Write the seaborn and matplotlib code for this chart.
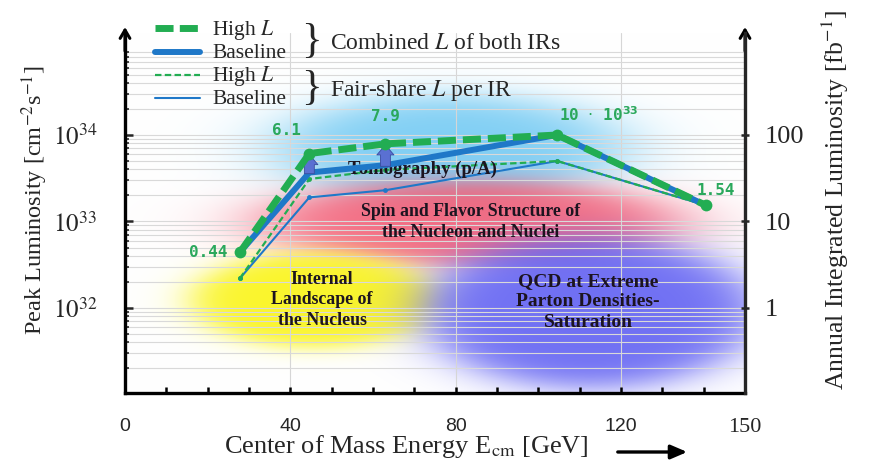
import numpy as np
import pandas as pd
import matplotlib
matplotlib.use("Agg")
import matplotlib.pyplot as plt
import seaborn as sns
from matplotlib.lines import Line2D
from matplotlib.ticker import FixedLocator, MultipleLocator, LogLocator, NullFormatter, NullLocator

# ---------------- data ----------------
energy_gev = [27.8, 44.6, 63.0, 104.6, 140.5]
high_combined = [0.44e33, 6.1e33, 7.9e33, 10.0e33, 1.54e33]
base_combined = [0.44e33, 3.68e33, 4.48e33, 10.0e33, 1.54e33]
high_per_ir = [0.22e33, 3.1e33, 3.95e33, 5.0e33, 1.54e33]
base_per_ir = [0.22e33, 1.9e33, 2.3e33, 5.0e33, 1.54e33]
point_labels = ["0.44", "6.1", "7.9", r"10 $\cdot$ 10$^{\mathbf{33}}$", "1.54"]
arrow_points = [1, 2]
x_ticks = [0, 40, 80, 120, 150]
x_tick_labels = ["0", "40", "80", "120", "150"]
left_ticks = [1e32, 1e33, 1e34]
left_tick_labels = [r"$10^{32}$", r"$10^{33}$", r"$10^{34}$"]
right_ticks = [1, 10, 100]
right_tick_labels = ["1", "10", "100"]
legend_labels = ["High $L$", "Baseline", "High $L$", "Baseline"]
group_labels = ["Combined $L$ of both IRs", "Fair-share $L$ per IR"]
region_labels = ["Tomography (p/A)",
                 "Spin and Flavor Structure of\nthe Nucleon and Nuclei",
                 "Internal\nLandscape of\nthe Nucleus",
                 "QCD at Extreme\nParton Densities-\nSaturation"]

# ---------------- style ----------------
sns.set_style("white")
plt.rcParams["font.family"] = ["Liberation Serif", "DejaVu Serif"]
plt.rcParams["mathtext.fontset"] = "stix"

GREEN = "#22ad52"
BLUE = "#1f78c8"
LABEL_GREEN = "#2aa85c"
W, H = 869, 466
AX_L, AX_R, AX_T, AX_B = 125, 745, 33, 393
AW, AH = AX_R - AX_L, AX_B - AX_T
fx = lambda px: px / W
fy = lambda py: 1 - py / H

fig = plt.figure(figsize=(W / 100, H / 100), dpi=100)
rect = [fx(AX_L), fy(AX_B), AW / W, AH / H]

# ---------------- soft coloured regions (background) ----------------
bg = fig.add_axes(rect, zorder=-1)
yy, xx = np.mgrid[0:AH, 0:AW] + 0.5
img = np.ones((AH, AW, 3))
blobs = [  # page-pixel centre, semi-axes, colour, max alpha, softness
    (450, 148, 170, 52, (0.42, 0.78, 0.95), 0.85, 0.16),
    (470, 223, 205, 42, (0.95, 0.33, 0.43), 0.85, 0.14),
    (315, 300, 122, 47, (0.98, 0.96, 0.15), 0.97, 0.11),
    (590, 312, 165, 75, (0.38, 0.38, 0.95), 0.9, 0.11),
]
for cx, cy, a, b, col, amax, soft in blobs:
    r = np.hypot((xx - (cx - AX_L)) / a, (yy - (cy - AX_T)) / b)
    al = amax / (1 + np.exp((r - 1) / soft))
    img = img * (1 - al[..., None]) + np.array(col) * al[..., None]
bg.imshow(img, extent=(0, AW, AH, 0), aspect="auto", interpolation="bilinear")
bg.set_xlim(0, AW)
bg.set_ylim(AH, 0)
bg.axis("off")

# ---------------- main axes ----------------
ax = fig.add_axes(rect, zorder=1)
ax.patch.set_alpha(0)
ax.set_yscale("log")
ylo = 10 ** (32 - (AX_B - 308) / 86.5)
yhi = 10 ** (34 + (135 - AX_T) / 86.5)

sns.lineplot(x=energy_gev, y=base_per_ir, ax=ax, color=BLUE, lw=1.5,
             marker="o", markersize=3.5, markeredgewidth=0, zorder=3)
sns.lineplot(x=energy_gev, y=high_per_ir, ax=ax, color=GREEN, lw=1.6,
             linestyle=(0, (2.9, 1.5)), marker="o", markersize=3.5,
             markeredgewidth=0, zorder=3.2)
sns.lineplot(x=energy_gev, y=base_combined, ax=ax, color=BLUE, lw=4.3,
             solid_joinstyle="round", zorder=3.5)
for i in arrow_points:
    ax.annotate("", xy=(energy_gev[i], high_combined[i] * 0.97),
                xytext=(energy_gev[i], base_combined[i] * 0.97),
                arrowprops=dict(arrowstyle="simple,head_length=0.55,head_width=0.95,tail_width=0.55",
                                fc="#5a70d2", ec="#3b4c9e", lw=0.6, shrinkA=0, shrinkB=0,
                                mutation_scale=13),
                zorder=4)
sns.lineplot(x=energy_gev, y=high_combined, ax=ax, color=GREEN, lw=5,
             linestyle=(0, (2.6, 1.0)), marker="o", markersize=8.5,
             markeredgewidth=0, zorder=5)

label_offsets = [(-9, 0), (-16.5, 16.5), (0, 19.5), (29.5, 15), (7, 11)]
label_ha = ["right", "center", "center", "center", "center"]
for i, txt in enumerate(point_labels):
    ax.annotate(txt, xy=(energy_gev[i], high_combined[i]), xytext=label_offsets[i],
                textcoords="offset points", ha=label_ha[i], va="center",
                color=LABEL_GREEN, fontsize=11.5, fontweight="bold",
                family="DejaVu Sans Mono", math_fontfamily="dejavusans", zorder=6)

ax.set_xlim(0, 150)
ax.set_ylim(ylo, yhi)

# grid
ax.grid(True, which="both", axis="y", color="#d9d9d9", lw=0.8, zorder=0)
ax.grid(True, which="major", axis="x", color="#d6d6d6", lw=0.8, zorder=0)
ax.set_axisbelow(True)

# x axis
ax.xaxis.set_major_locator(FixedLocator(x_ticks))
ax.set_xticklabels(x_tick_labels)
ax.xaxis.set_minor_locator(MultipleLocator(10))
ax.tick_params(axis="x", which="both", direction="in", length=4.5, width=1.8,
               pad=18, labelsize=14, color="black", bottom=True, top=False)
for lab in ax.get_xticklabels():
    if lab.get_text() == "150":
        lab.set_family("Liberation Serif")
        lab.set_fontsize(16)
    else:
        lab.set_family("Liberation Sans")

# left y axis
ax.yaxis.set_major_locator(FixedLocator(left_ticks))
ax.set_yticklabels(left_tick_labels)
ax.yaxis.set_minor_locator(LogLocator(base=10, subs=np.arange(2, 10)))
ax.yaxis.set_minor_formatter(NullFormatter())
ax.tick_params(axis="y", which="major", direction="in", length=6, width=1.8,
               pad=20, labelsize=18, left=True, right=False)
ax.tick_params(axis="y", which="minor", direction="in", length=3, width=1.2,
               left=True, right=False)

for s in ["top", "right"]:
    ax.spines[s].set_visible(False)
for s in ["left", "bottom"]:
    ax.spines[s].set_linewidth(2.4)
    ax.spines[s].set_color("black")

# right y axis
ax2 = ax.twinx()
ax2.set_yscale("log")
ax2.set_ylim(ylo / 1e32, yhi / 1e32)
ax2.yaxis.set_major_locator(FixedLocator(right_ticks))
ax2.set_yticklabels(right_tick_labels)
ax2.yaxis.set_minor_locator(NullLocator())
ax2.tick_params(axis="y", which="major", direction="inout", length=6, width=1.8,
                pad=11, labelsize=19, right=True, left=False)
for s in ["top", "left", "bottom"]:
    ax2.spines[s].set_visible(False)
ax2.spines["right"].set_linewidth(2.4)

# axis arrows
for xa in (0, 1):
    ax.annotate("", xy=(xa, 1 + 6 / AH), xytext=(xa, 0.95), xycoords="axes fraction",
                arrowprops=dict(arrowstyle="->,head_length=0.6,head_width=0.35",
                                lw=2.2, color="black", shrinkA=0, shrinkB=0),
                annotation_clip=False, zorder=7)

# axis labels
ax.set_xlabel(r"Center of Mass Energy E$_{\rm cm}$ [GeV]", fontsize=19)
ax.xaxis.set_label_coords((406 - AX_L) / AW, (AX_B - 447) / AH)
ax.xaxis.label.set_va("center")
ax.set_ylabel(r"Peak Luminosity [cm$^{-2}$s$^{-1}$]", fontsize=17.5)
ax.yaxis.set_label_coords((35 - AX_L) / AW, (AX_B - 200) / AH)
ax.yaxis.label.set_va("center")
ax2.set_ylabel(r"Annual Integrated Luminosity [fb$^{-1}$]", fontsize=18.5, rotation=90)
ax2.yaxis.set_label_coords((835 - AX_L) / AW, (AX_B - 200) / AH)
ax2.yaxis.label.set_va("center")

fig.add_artist(matplotlib.patches.FancyArrowPatch(
    (fx(615), fy(452)), (fx(690), fy(452)), transform=fig.transFigure,
    arrowstyle="-|>,head_length=0.7,head_width=0.3", mutation_scale=14,
    lw=2.4, color="black"))

# region labels
region_pos = [(422, 169), (471, 222), (322, 300), (588, 302)]
region_size = [13.5, 12.8, 12.8, 14]
region_spacing = [1.2, 1.32, 1.25, 1.3]
for txt, (px, py), fs, lsp in zip(region_labels, region_pos, region_size, region_spacing):
    ax.text((px - AX_L) / AW, (AX_B - py) / AH, txt, transform=ax.transAxes,
            ha="center", va="center", fontsize=fs, fontweight="bold",
            color="#1c1420", linespacing=lsp, zorder=3.3)

# legend (manual, in figure pixels)
leg_rows = [(28, GREEN, 5, (0, (2.6, 0.9))), (52, BLUE, 4.3, "-"),
            (75, GREEN, 1.6, (0, (2.9, 1.5))), (98, BLUE, 1.5, "-")]
for (py, col, lw, ls), lab in zip(leg_rows, legend_labels):
    fig.add_artist(Line2D([fx(155), fx(200)], [fy(py), fy(py)], color=col, lw=lw,
                          linestyle=ls, transform=fig.transFigure))
    fig.text(fx(212), fy(py + 6.5), lab, fontsize=15.5, va="baseline", ha="left")
for py, lab in zip([42, 89], group_labels):
    fig.text(fx(311), fy(py), "}", fontsize=31, va="center", ha="center",
             family="Liberation Serif", fontweight="light")
    fig.text(fx(330), fy(py + 7), lab, fontsize=17, va="baseline", ha="left")

fig.savefig("out.png", dpi=100)
